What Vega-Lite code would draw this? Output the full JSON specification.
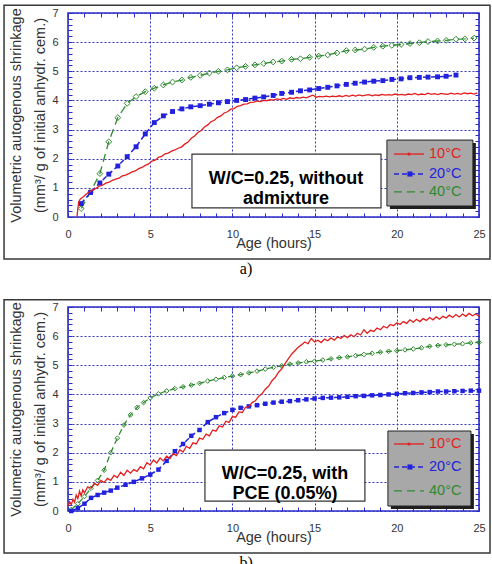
{
  "$schema": "https://vega.github.io/schema/vega-lite/v6.json",
  "background": "white",
  "padding": {"left": 2, "top": 3, "right": 2, "bottom": 0},
  "bounds": "flush",
  "spacing": 90,
  "config": {
    "font": "Liberation Sans",
    "view": {"stroke": "#2c2cc8", "strokeWidth": 1.6},
    "axis": {
      "domain": false,
      "tickColor": "#2c2cc8",
      "tickSize": -4,
      "tickWidth": 1,
      "labelFlush": false,
      "labelOverlap": false,
      "labelFontSize": 11,
      "labelColor": "#333333",
      "gridColor": "#3535c8",
      "gridDash": [2, 2],
      "gridWidth": 1,
      "titleFontWeight": "normal",
      "titleFontSize": 14.5,
      "titleColor": "#333333",
      "format": "d"
    }
  },
  "datasets": {
    "a10": [
      {"t":0.55,"v":0.02},{"t":0.6,"v":0.3},{"t":0.65,"v":0.52},{"t":0.75,"v":0.62},{"t":0.9,"v":0.68},{"t":1.1,"v":0.78},{"t":1.3,"v":0.86},{"t":1.5,"v":0.93},{"t":1.7,"v":0.98},{"t":1.9,"v":1.06},{"t":2.1,"v":1.09},{"t":2.3,"v":1.16},{"t":2.5,"v":1.2},{"t":2.7,"v":1.26},{"t":2.9,"v":1.3},{"t":3.1,"v":1.33},{"t":3.3,"v":1.41},{"t":3.5,"v":1.44},{"t":3.7,"v":1.49},{"t":3.9,"v":1.55},{"t":4.1,"v":1.58},{"t":4.3,"v":1.66},{"t":4.5,"v":1.7},{"t":4.7,"v":1.77},{"t":4.9,"v":1.82},{"t":5.1,"v":1.92},{"t":5.3,"v":1.95},{"t":5.5,"v":2.05},{"t":5.7,"v":2.08},{"t":5.9,"v":2.17},{"t":6.1,"v":2.19},{"t":6.3,"v":2.26},{"t":6.5,"v":2.3},{"t":6.7,"v":2.36},{"t":6.9,"v":2.4},{"t":7.1,"v":2.5},{"t":7.3,"v":2.57},{"t":7.5,"v":2.7},{"t":7.7,"v":2.78},{"t":7.9,"v":2.9},{"t":8.1,"v":2.97},{"t":8.3,"v":3.09},{"t":8.5,"v":3.16},{"t":8.7,"v":3.27},{"t":8.9,"v":3.32},{"t":9.1,"v":3.42},{"t":9.3,"v":3.47},{"t":9.5,"v":3.57},{"t":9.7,"v":3.61},{"t":9.9,"v":3.7},{"t":10.1,"v":3.72},{"t":10.3,"v":3.8},{"t":10.5,"v":3.82},{"t":10.7,"v":3.87},{"t":10.9,"v":3.88},{"t":11.1,"v":3.93},{"t":11.3,"v":3.94},{"t":11.5,"v":3.98},{"t":11.7,"v":3.96},{"t":11.9,"v":4.0},{"t":12.1,"v":3.99},{"t":12.3,"v":4.03},{"t":12.5,"v":4.01},{"t":12.7,"v":4.05},{"t":12.9,"v":4.03},{"t":13.1,"v":4.07},{"t":13.3,"v":4.04},{"t":13.5,"v":4.09},{"t":13.7,"v":4.06},{"t":13.9,"v":4.1},{"t":14.1,"v":4.08},{"t":14.3,"v":4.11},{"t":14.5,"v":4.09},{"t":14.7,"v":4.14},{"t":14.9,"v":4.18},{"t":15.1,"v":4.11},{"t":15.3,"v":4.14},{"t":15.5,"v":4.12},{"t":15.7,"v":4.15},{"t":15.9,"v":4.12},{"t":16.1,"v":4.15},{"t":16.3,"v":4.13},{"t":16.5,"v":4.16},{"t":16.7,"v":4.13},{"t":16.9,"v":4.17},{"t":17.1,"v":4.14},{"t":17.3,"v":4.18},{"t":17.5,"v":4.15},{"t":17.7,"v":4.19},{"t":17.9,"v":4.16},{"t":18.1,"v":4.18},{"t":18.3,"v":4.2},{"t":18.5,"v":4.16},{"t":18.7,"v":4.19},{"t":18.9,"v":4.17},{"t":19.1,"v":4.21},{"t":19.3,"v":4.18},{"t":19.5,"v":4.2},{"t":19.7,"v":4.18},{"t":19.9,"v":4.22},{"t":20.1,"v":4.19},{"t":20.3,"v":4.21},{"t":20.5,"v":4.18},{"t":20.7,"v":4.22},{"t":20.9,"v":4.2},{"t":21.1,"v":4.24},{"t":21.3,"v":4.19},{"t":21.5,"v":4.22},{"t":21.7,"v":4.2},{"t":21.9,"v":4.25},{"t":22.1,"v":4.21},{"t":22.3,"v":4.23},{"t":22.5,"v":4.2},{"t":22.7,"v":4.24},{"t":22.9,"v":4.22},{"t":23.1,"v":4.21},{"t":23.3,"v":4.25},{"t":23.5,"v":4.22},{"t":23.7,"v":4.24},{"t":23.9,"v":4.21},{"t":24.1,"v":4.26},{"t":24.3,"v":4.23},{"t":24.5,"v":4.25},{"t":24.7,"v":4.22},{"t":24.9,"v":4.26}
    ],
    "a20": [
      {"t":0.8,"v":0.46},{"t":1.37,"v":0.84},{"t":1.94,"v":1.17},{"t":2.48,"v":1.47},{"t":3.03,"v":1.75},{"t":3.6,"v":2.07},{"t":4.14,"v":2.41},{"t":4.7,"v":2.85},{"t":5.25,"v":3.24},{"t":5.8,"v":3.47},{"t":6.36,"v":3.62},{"t":6.93,"v":3.71},{"t":7.47,"v":3.78},{"t":8.04,"v":3.82},{"t":8.6,"v":3.87},{"t":9.15,"v":3.92},{"t":9.7,"v":3.96},{"t":10.26,"v":4.0},{"t":10.8,"v":4.03},{"t":11.37,"v":4.08},{"t":11.9,"v":4.12},{"t":12.48,"v":4.17},{"t":13.0,"v":4.24},{"t":13.6,"v":4.28},{"t":14.14,"v":4.33},{"t":14.7,"v":4.36},{"t":15.25,"v":4.41},{"t":15.8,"v":4.45},{"t":16.36,"v":4.5},{"t":16.93,"v":4.55},{"t":17.47,"v":4.59},{"t":18.04,"v":4.63},{"t":18.6,"v":4.66},{"t":19.15,"v":4.68},{"t":19.7,"v":4.72},{"t":20.26,"v":4.74},{"t":20.8,"v":4.78},{"t":21.37,"v":4.79},{"t":21.9,"v":4.8},{"t":22.48,"v":4.81},{"t":23.0,"v":4.83},{"t":23.6,"v":4.87}
    ],
    "a40": [
      {"t":0.8,"v":0.29},{"t":1.37,"v":0.86},{"t":1.94,"v":1.49},{"t":2.48,"v":2.58},{"t":3.03,"v":3.41},{"t":3.6,"v":3.9},{"t":4.14,"v":4.13},{"t":4.7,"v":4.3},{"t":5.25,"v":4.42},{"t":5.8,"v":4.53},{"t":6.36,"v":4.63},{"t":6.93,"v":4.7},{"t":7.47,"v":4.79},{"t":8.04,"v":4.86},{"t":8.6,"v":4.94},{"t":9.15,"v":5.0},{"t":9.7,"v":5.05},{"t":10.26,"v":5.12},{"t":10.8,"v":5.17},{"t":11.37,"v":5.22},{"t":11.9,"v":5.27},{"t":12.48,"v":5.32},{"t":13.0,"v":5.35},{"t":13.6,"v":5.41},{"t":14.14,"v":5.43},{"t":14.7,"v":5.48},{"t":15.25,"v":5.52},{"t":15.8,"v":5.56},{"t":16.36,"v":5.63},{"t":16.93,"v":5.71},{"t":17.47,"v":5.73},{"t":18.04,"v":5.76},{"t":18.6,"v":5.82},{"t":19.15,"v":5.86},{"t":19.7,"v":5.89},{"t":20.26,"v":5.92},{"t":20.8,"v":5.95},{"t":21.37,"v":5.98},{"t":21.9,"v":6.02},{"t":22.48,"v":6.04},{"t":23.0,"v":6.06},{"t":23.6,"v":6.1},{"t":24.14,"v":6.11},{"t":24.7,"v":6.14}
    ],
    "b10": [
      {"t":0.0,"v":0.18},{"t":0.1,"v":0.32},{"t":0.2,"v":0.22},{"t":0.3,"v":0.4},{"t":0.4,"v":0.3},{"t":0.5,"v":0.55},{"t":0.6,"v":0.42},{"t":0.7,"v":0.68},{"t":0.8,"v":0.52},{"t":0.9,"v":0.72},{"t":1.0,"v":0.62},{"t":1.2,"v":0.83},{"t":1.4,"v":0.78},{"t":1.6,"v":0.95},{"t":1.8,"v":0.88},{"t":2.0,"v":1.05},{"t":2.2,"v":0.98},{"t":2.4,"v":1.12},{"t":2.6,"v":1.05},{"t":2.8,"v":1.22},{"t":3.0,"v":1.15},{"t":3.2,"v":1.33},{"t":3.4,"v":1.22},{"t":3.6,"v":1.4},{"t":3.8,"v":1.3},{"t":4.0,"v":1.42},{"t":4.2,"v":1.36},{"t":4.4,"v":1.52},{"t":4.6,"v":1.45},{"t":4.8,"v":1.66},{"t":5.0,"v":1.58},{"t":5.2,"v":1.75},{"t":5.4,"v":1.65},{"t":5.6,"v":1.82},{"t":5.8,"v":1.72},{"t":6.0,"v":1.88},{"t":6.2,"v":1.8},{"t":6.4,"v":1.97},{"t":6.6,"v":1.9},{"t":6.8,"v":2.1},{"t":7.0,"v":2.02},{"t":7.2,"v":2.22},{"t":7.4,"v":2.15},{"t":7.6,"v":2.34},{"t":7.8,"v":2.3},{"t":8.0,"v":2.5},{"t":8.2,"v":2.46},{"t":8.4,"v":2.64},{"t":8.6,"v":2.58},{"t":8.8,"v":2.78},{"t":9.0,"v":2.74},{"t":9.2,"v":2.92},{"t":9.4,"v":2.88},{"t":9.6,"v":3.08},{"t":9.8,"v":3.04},{"t":10.0,"v":3.24},{"t":10.2,"v":3.22},{"t":10.4,"v":3.4},{"t":10.6,"v":3.38},{"t":10.8,"v":3.56},{"t":11.0,"v":3.58},{"t":11.2,"v":3.72},{"t":11.4,"v":3.78},{"t":11.6,"v":3.94},{"t":11.8,"v":4.02},{"t":12.0,"v":4.18},{"t":12.2,"v":4.28},{"t":12.4,"v":4.46},{"t":12.6,"v":4.58},{"t":12.8,"v":4.76},{"t":13.0,"v":4.88},{"t":13.2,"v":5.06},{"t":13.4,"v":5.22},{"t":13.6,"v":5.38},{"t":13.8,"v":5.5},{"t":14.0,"v":5.62},{"t":14.2,"v":5.7},{"t":14.4,"v":5.8},{"t":14.6,"v":5.74},{"t":14.8,"v":5.92},{"t":15.0,"v":5.8},{"t":15.2,"v":5.86},{"t":15.4,"v":5.78},{"t":15.6,"v":5.9},{"t":15.8,"v":5.84},{"t":16.0,"v":5.94},{"t":16.2,"v":5.86},{"t":16.4,"v":5.98},{"t":16.6,"v":5.92},{"t":16.8,"v":6.02},{"t":17.0,"v":5.95},{"t":17.2,"v":6.05},{"t":17.4,"v":5.98},{"t":17.6,"v":6.1},{"t":17.8,"v":6.04},{"t":18.0,"v":6.22},{"t":18.2,"v":6.1},{"t":18.4,"v":6.2},{"t":18.6,"v":6.16},{"t":18.8,"v":6.28},{"t":19.0,"v":6.22},{"t":19.2,"v":6.34},{"t":19.4,"v":6.28},{"t":19.6,"v":6.4},{"t":19.8,"v":6.36},{"t":20.0,"v":6.46},{"t":20.2,"v":6.4},{"t":20.4,"v":6.5},{"t":20.6,"v":6.44},{"t":20.8,"v":6.56},{"t":21.0,"v":6.48},{"t":21.2,"v":6.58},{"t":21.4,"v":6.5},{"t":21.6,"v":6.6},{"t":21.8,"v":6.54},{"t":22.0,"v":6.64},{"t":22.2,"v":6.56},{"t":22.4,"v":6.66},{"t":22.6,"v":6.58},{"t":22.8,"v":6.68},{"t":23.0,"v":6.62},{"t":23.2,"v":6.72},{"t":23.4,"v":6.64},{"t":23.6,"v":6.74},{"t":23.8,"v":6.66},{"t":24.0,"v":6.76},{"t":24.2,"v":6.68},{"t":24.4,"v":6.78},{"t":24.6,"v":6.7},{"t":24.8,"v":6.76},{"t":25.0,"v":6.68}
    ],
    "b20": [
      {"t":0.2,"v":0.0},{"t":0.6,"v":0.1},{"t":1.0,"v":0.25},{"t":1.4,"v":0.45},{"t":1.8,"v":0.55},{"t":2.2,"v":0.63},{"t":2.6,"v":0.7},{"t":3.0,"v":0.8},{"t":3.5,"v":0.9},{"t":4.0,"v":1.0},{"t":4.5,"v":1.12},{"t":5.0,"v":1.25},{"t":5.5,"v":1.42},{"t":6.0,"v":1.72},{"t":6.5,"v":2.05},{"t":7.0,"v":2.3},{"t":7.5,"v":2.58},{"t":8.0,"v":2.78},{"t":8.5,"v":3.05},{"t":9.0,"v":3.22},{"t":9.5,"v":3.36},{"t":10.0,"v":3.47},{"t":10.5,"v":3.54},{"t":11.0,"v":3.59},{"t":11.5,"v":3.63},{"t":12.0,"v":3.68},{"t":12.5,"v":3.72},{"t":13.0,"v":3.75},{"t":13.5,"v":3.77},{"t":14.0,"v":3.8},{"t":14.5,"v":3.83},{"t":15.0,"v":3.86},{"t":15.5,"v":3.88},{"t":16.0,"v":3.89},{"t":16.5,"v":3.9},{"t":17.0,"v":3.92},{"t":17.5,"v":3.94},{"t":18.0,"v":3.95},{"t":18.5,"v":3.97},{"t":19.0,"v":3.98},{"t":19.5,"v":4.0},{"t":20.0,"v":4.02},{"t":20.5,"v":4.04},{"t":21.0,"v":4.05},{"t":21.5,"v":4.07},{"t":22.0,"v":4.08},{"t":22.5,"v":4.1},{"t":23.0,"v":4.1},{"t":23.5,"v":4.11},{"t":24.0,"v":4.12},{"t":24.5,"v":4.13},{"t":25.0,"v":4.13}
    ],
    "b40": [
      {"t":0.2,"v":0.05},{"t":0.6,"v":0.25},{"t":1.0,"v":0.5},{"t":1.4,"v":0.78},{"t":1.8,"v":1.05},{"t":2.2,"v":1.4},{"t":2.6,"v":2.0},{"t":3.0,"v":2.5},{"t":3.4,"v":2.95},{"t":3.8,"v":3.3},{"t":4.2,"v":3.55},{"t":4.6,"v":3.72},{"t":5.0,"v":3.88},{"t":5.5,"v":4.02},{"t":6.0,"v":4.12},{"t":6.5,"v":4.2},{"t":7.0,"v":4.26},{"t":7.5,"v":4.32},{"t":8.0,"v":4.38},{"t":8.5,"v":4.46},{"t":9.0,"v":4.52},{"t":9.5,"v":4.58},{"t":10.0,"v":4.63},{"t":10.5,"v":4.68},{"t":11.0,"v":4.74},{"t":11.5,"v":4.8},{"t":12.0,"v":4.87},{"t":12.5,"v":4.93},{"t":13.0,"v":4.98},{"t":13.5,"v":5.04},{"t":14.0,"v":5.08},{"t":14.5,"v":5.12},{"t":15.0,"v":5.14},{"t":15.5,"v":5.18},{"t":16.0,"v":5.22},{"t":16.5,"v":5.26},{"t":17.0,"v":5.29},{"t":17.5,"v":5.33},{"t":18.0,"v":5.37},{"t":18.5,"v":5.41},{"t":19.0,"v":5.45},{"t":19.5,"v":5.48},{"t":20.0,"v":5.5},{"t":20.5,"v":5.53},{"t":21.0,"v":5.56},{"t":21.5,"v":5.6},{"t":22.0,"v":5.65},{"t":22.5,"v":5.68},{"t":23.0,"v":5.7},{"t":23.5,"v":5.72},{"t":24.0,"v":5.74},{"t":24.5,"v":5.77},{"t":25.0,"v":5.79}
    ]
  },
  "vconcat": [
    {
      "width": 411,
      "height": 204,
      "resolve": {"axis": {"x": "independent", "y": "independent"}},
      "layer": [
        {"data": {"values": [{}]}, "mark": {"type": "rect", "fill": "white", "fillOpacity": 0, "stroke": "#383838", "strokeWidth": 1.5},
         "encoding": {"x": {"datum": -3.89, "type": "quantitative", "axis": null}, "x2": {"datum": 25.67}, "y": {"datum": 7.27, "type": "quantitative", "axis": null}, "y2": {"datum": -1.44}}},
        {"data": {"values": [{}]}, "mark": {"type": "text", "text": "a)", "font": "Liberation Serif", "fontSize": 16, "color": "black"},
         "encoding": {"x": {"datum": 10.83, "type": "quantitative", "axis": null}, "y": {"datum": -1.79, "type": "quantitative", "axis": null}}},
        {"data": {"name": "a40"}, "mark": {"type": "line", "color": "#2f8a2f", "strokeDash": [8, 5], "strokeWidth": 1.3},
         "encoding": {"x": {"field": "t", "type": "quantitative", "axis": null}, "y": {"field": "v", "type": "quantitative", "axis": null}}},
        {"data": {"name": "a40"}, "mark": {"type": "point", "shape": "diamond", "filled": false, "color": "#2f8a2f", "size": 34, "strokeWidth": 1, "opacity": 1},
         "encoding": {
           "x": {"field": "t", "type": "quantitative", "axis": {"orient": "top", "values": [0,1,2,3,4,5,6,7,8,9,10,11,12,13,14,15,16,17,18,19,20,21,22,23,24,25], "labels": false, "grid": false, "title": null}},
           "y": {"field": "v", "type": "quantitative", "axis": {"orient": "right", "values": [0,0.2,0.4,0.6,0.8,1,1.2,1.4,1.6,1.8,2,2.2,2.4,2.6,2.8,3,3.2,3.4,3.6,3.8,4,4.2,4.4,4.6,4.8,5,5.2,5.4,5.6,5.8,6,6.2,6.4,6.6,6.8,7], "labels": false, "grid": false, "title": null}}}},
        {"data": {"name": "a20"}, "mark": {"type": "line", "color": "#2222dd", "strokeDash": [5, 3], "strokeWidth": 1.5},
         "encoding": {"x": {"field": "t", "type": "quantitative", "axis": null}, "y": {"field": "v", "type": "quantitative", "axis": null}}},
        {"data": {"name": "a20"}, "mark": {"type": "point", "shape": "square", "filled": true, "color": "#2222dd", "size": 24, "opacity": 1},
         "encoding": {"x": {"field": "t", "type": "quantitative", "axis": null}, "y": {"field": "v", "type": "quantitative", "axis": null}}},
        {"data": {"name": "a10"}, "mark": {"type": "line", "color": "#e41e1e", "strokeWidth": 1.3},
         "encoding": {
           "x": {"field": "t", "type": "quantitative", "scale": {"domain": [0, 25], "nice": false, "zero": false},
                 "axis": {"orient": "bottom", "values": [0,1,2,3,4,5,6,7,8,9,10,11,12,13,14,15,16,17,18,19,20,21,22,23,24,25],
                          "labelExpr": "datum.value % 5 === 0 ? datum.label : ''", "labelPadding": 15,
                          "grid": true, "gridOpacity": {"condition": {"test": "datum.value % 5 === 0", "value": 1}, "value": 0},
                          "title": "Age (hours)", "titlePadding": -3}},
           "y": {"field": "v", "type": "quantitative", "scale": {"domain": [0, 7], "nice": false, "zero": false},
                 "axis": {"orient": "left", "values": [0,0.2,0.4,0.6,0.8,1,1.2,1.4,1.6,1.8,2,2.2,2.4,2.6,2.8,3,3.2,3.4,3.6,3.8,4,4.2,4.4,4.6,4.8,5,5.2,5.4,5.6,5.8,6,6.2,6.4,6.6,6.8,7],
                          "labelExpr": "datum.value % 1 === 0 ? datum.label : ''", "labelPadding": 14,
                          "grid": true, "gridOpacity": {"condition": {"test": "datum.value % 1 === 0", "value": 1}, "value": 0},
                          "title": ["Volumetric autogenous shrinkage", "(mm³/ g of initial anhydr. cem.)"], "titleLineHeight": 24, "titlePadding": 4}}}},
        {"data": {"values": [{}]}, "mark": {"type": "rect", "fill": "white", "stroke": "#333333", "strokeWidth": 1.2},
         "encoding": {"x": {"datum": 7.54, "type": "quantitative", "axis": null}, "x2": {"datum": 19.04}, "y": {"datum": 2.16, "type": "quantitative", "axis": null}, "y2": {"datum": 0.31}}},
        {"data": {"values": [{}]}, "mark": {"type": "text", "text": ["W/C=0.25, without", "admixture"], "fontWeight": "bold", "fontSize": 18, "lineHeight": 20, "align": "center", "baseline": "middle", "color": "black"},
         "encoding": {"x": {"datum": 13.26, "type": "quantitative", "axis": null}, "y": {"datum": 1.3, "type": "quantitative", "axis": null}}},
        {"data": {"values": [{}]}, "mark": {"type": "rect", "fill": "#1e1e1e"},
         "encoding": {"x": {"datum": 19.58, "type": "quantitative", "axis": null}, "x2": {"datum": 24.81}, "y": {"datum": 2.54, "type": "quantitative", "axis": null}, "y2": {"datum": 0.277}}},
        {"data": {"values": [{}]}, "mark": {"type": "rect", "fill": "#a8a8a8", "stroke": "#222222", "strokeWidth": 1},
         "encoding": {"x": {"datum": 19.4, "type": "quantitative", "axis": null}, "x2": {"datum": 24.63}, "y": {"datum": 2.64, "type": "quantitative", "axis": null}, "y2": {"datum": 0.377}}},
        {"data": {"values": [{}]}, "mark": {"type": "rule", "color": "#e41e1e", "strokeWidth": 1.3},
         "encoding": {"x": {"datum": 19.83, "type": "quantitative", "axis": null}, "x2": {"datum": 21.65}, "y": {"datum": 2.16, "type": "quantitative", "axis": null}}},
        {"data": {"values": [{}]}, "mark": {"type": "point", "shape": "circle", "filled": true, "color": "#e41e1e", "size": 10, "opacity": 1},
         "encoding": {"x": {"datum": 20.74, "type": "quantitative", "axis": null}, "y": {"datum": 2.16, "type": "quantitative", "axis": null}}},
        {"data": {"values": [{}]}, "mark": {"type": "text", "text": "10°C", "align": "left", "baseline": "middle", "fontSize": 14.5, "color": "#e41e1e"},
         "encoding": {"x": {"datum": 21.96, "type": "quantitative", "axis": null}, "y": {"datum": 2.16, "type": "quantitative", "axis": null}}},
        {"data": {"values": [{}]}, "mark": {"type": "rule", "color": "#2222dd", "strokeWidth": 1.5, "strokeDash": [5, 3]},
         "encoding": {"x": {"datum": 19.83, "type": "quantitative", "axis": null}, "x2": {"datum": 21.65}, "y": {"datum": 1.475, "type": "quantitative", "axis": null}}},
        {"data": {"values": [{}]}, "mark": {"type": "point", "shape": "square", "filled": true, "color": "#2222dd", "size": 26, "opacity": 1},
         "encoding": {"x": {"datum": 20.8, "type": "quantitative", "axis": null}, "y": {"datum": 1.475, "type": "quantitative", "axis": null}}},
        {"data": {"values": [{}]}, "mark": {"type": "text", "text": "20°C", "align": "left", "baseline": "middle", "fontSize": 14.5, "color": "#2222dd"},
         "encoding": {"x": {"datum": 21.96, "type": "quantitative", "axis": null}, "y": {"datum": 1.475, "type": "quantitative", "axis": null}}},
        {"data": {"values": [{}]}, "mark": {"type": "rule", "color": "#2f8a2f", "strokeWidth": 1.3, "strokeDash": [8, 5]},
         "encoding": {"x": {"datum": 19.83, "type": "quantitative", "axis": null}, "x2": {"datum": 21.65}, "y": {"datum": 0.86, "type": "quantitative", "axis": null}}},
        {"data": {"values": [{}]}, "mark": {"type": "text", "text": "40°C", "align": "left", "baseline": "middle", "fontSize": 14.5, "color": "#2f8a2f"},
         "encoding": {"x": {"datum": 21.96, "type": "quantitative", "axis": null}, "y": {"datum": 0.86, "type": "quantitative", "axis": null}}}
      ]
    },
    {
      "width": 411,
      "height": 204,
      "resolve": {"axis": {"x": "independent", "y": "independent"}},
      "layer": [
        {"data": {"values": [{}]}, "mark": {"type": "rect", "fill": "white", "fillOpacity": 0, "stroke": "#383838", "strokeWidth": 1.5},
         "encoding": {"x": {"datum": -3.89, "type": "quantitative", "axis": null}, "x2": {"datum": 25.67}, "y": {"datum": 7.25, "type": "quantitative", "axis": null}, "y2": {"datum": -1.44}}},
        {"data": {"values": [{}]}, "mark": {"type": "text", "text": "b)", "font": "Liberation Serif", "fontSize": 16, "color": "black"},
         "encoding": {"x": {"datum": 10.83, "type": "quantitative", "axis": null}, "y": {"datum": -1.79, "type": "quantitative", "axis": null}}},
        {"data": {"name": "b40"}, "mark": {"type": "line", "color": "#2f8a2f", "strokeDash": [6, 4], "strokeWidth": 1.3},
         "encoding": {"x": {"field": "t", "type": "quantitative", "axis": null}, "y": {"field": "v", "type": "quantitative", "axis": null}}},
        {"data": {"name": "b40"}, "mark": {"type": "point", "shape": "diamond", "filled": false, "color": "#2f8a2f", "size": 22, "strokeWidth": 1, "opacity": 1},
         "encoding": {
           "x": {"field": "t", "type": "quantitative", "axis": {"orient": "top", "values": [0,1,2,3,4,5,6,7,8,9,10,11,12,13,14,15,16,17,18,19,20,21,22,23,24,25], "labels": false, "grid": false, "title": null}},
           "y": {"field": "v", "type": "quantitative", "axis": {"orient": "right", "values": [0,0.2,0.4,0.6,0.8,1,1.2,1.4,1.6,1.8,2,2.2,2.4,2.6,2.8,3,3.2,3.4,3.6,3.8,4,4.2,4.4,4.6,4.8,5,5.2,5.4,5.6,5.8,6,6.2,6.4,6.6,6.8,7], "labels": false, "grid": false, "title": null}}}},
        {"data": {"name": "b20"}, "mark": {"type": "line", "color": "#2222dd", "strokeDash": [5, 3], "strokeWidth": 1.5},
         "encoding": {"x": {"field": "t", "type": "quantitative", "axis": null}, "y": {"field": "v", "type": "quantitative", "axis": null}}},
        {"data": {"name": "b20"}, "mark": {"type": "point", "shape": "square", "filled": true, "color": "#2222dd", "size": 20, "opacity": 1},
         "encoding": {"x": {"field": "t", "type": "quantitative", "axis": null}, "y": {"field": "v", "type": "quantitative", "axis": null}}},
        {"data": {"name": "b10"}, "mark": {"type": "line", "color": "#e41e1e", "strokeWidth": 1.3},
         "encoding": {
           "x": {"field": "t", "type": "quantitative", "scale": {"domain": [0, 25], "nice": false, "zero": false},
                 "axis": {"orient": "bottom", "values": [0,1,2,3,4,5,6,7,8,9,10,11,12,13,14,15,16,17,18,19,20,21,22,23,24,25],
                          "labelExpr": "datum.value % 5 === 0 ? datum.label : ''", "labelPadding": 15,
                          "grid": true, "gridOpacity": {"condition": {"test": "datum.value % 5 === 0", "value": 1}, "value": 0},
                          "title": "Age (hours)", "titlePadding": -3}},
           "y": {"field": "v", "type": "quantitative", "scale": {"domain": [0, 7], "nice": false, "zero": false},
                 "axis": {"orient": "left", "values": [0,0.2,0.4,0.6,0.8,1,1.2,1.4,1.6,1.8,2,2.2,2.4,2.6,2.8,3,3.2,3.4,3.6,3.8,4,4.2,4.4,4.6,4.8,5,5.2,5.4,5.6,5.8,6,6.2,6.4,6.6,6.8,7],
                          "labelExpr": "datum.value % 1 === 0 ? datum.label : ''", "labelPadding": 14,
                          "grid": true, "gridOpacity": {"condition": {"test": "datum.value % 1 === 0", "value": 1}, "value": 0},
                          "title": ["Volumetric autogenous shrinkage", "(mm³/ g of initial anhydr. cem.)"], "titleLineHeight": 24, "titlePadding": 4}}}},
        {"data": {"values": [{}]}, "mark": {"type": "rect", "fill": "white", "stroke": "#333333", "strokeWidth": 1.2},
         "encoding": {"x": {"datum": 8.33, "type": "quantitative", "axis": null}, "x2": {"datum": 18.06}, "y": {"datum": 2.09, "type": "quantitative", "axis": null}, "y2": {"datum": 0.34}}},
        {"data": {"values": [{}]}, "mark": {"type": "text", "text": ["W/C=0.25, with", "PCE (0.05%)"], "fontWeight": "bold", "fontSize": 18, "lineHeight": 20, "align": "center", "baseline": "middle", "color": "black"},
         "encoding": {"x": {"datum": 13.2, "type": "quantitative", "axis": null}, "y": {"datum": 1.27, "type": "quantitative", "axis": null}}},
        {"data": {"values": [{}]}, "mark": {"type": "rect", "fill": "#1e1e1e"},
         "encoding": {"x": {"datum": 19.64, "type": "quantitative", "axis": null}, "x2": {"datum": 24.69}, "y": {"datum": 2.645, "type": "quantitative", "axis": null}, "y2": {"datum": 0.07}}},
        {"data": {"values": [{}]}, "mark": {"type": "rect", "fill": "#a8a8a8", "stroke": "#222222", "strokeWidth": 1},
         "encoding": {"x": {"datum": 19.46, "type": "quantitative", "axis": null}, "x2": {"datum": 24.51}, "y": {"datum": 2.745, "type": "quantitative", "axis": null}, "y2": {"datum": 0.17}}},
        {"data": {"values": [{}]}, "mark": {"type": "rule", "color": "#e41e1e", "strokeWidth": 1.3},
         "encoding": {"x": {"datum": 19.83, "type": "quantitative", "axis": null}, "x2": {"datum": 21.65}, "y": {"datum": 2.3, "type": "quantitative", "axis": null}}},
        {"data": {"values": [{}]}, "mark": {"type": "point", "shape": "circle", "filled": true, "color": "#e41e1e", "size": 10, "opacity": 1},
         "encoding": {"x": {"datum": 20.74, "type": "quantitative", "axis": null}, "y": {"datum": 2.3, "type": "quantitative", "axis": null}}},
        {"data": {"values": [{}]}, "mark": {"type": "text", "text": "10°C", "align": "left", "baseline": "middle", "fontSize": 14.5, "color": "#e41e1e"},
         "encoding": {"x": {"datum": 21.96, "type": "quantitative", "axis": null}, "y": {"datum": 2.3, "type": "quantitative", "axis": null}}},
        {"data": {"values": [{}]}, "mark": {"type": "rule", "color": "#2222dd", "strokeWidth": 1.5, "strokeDash": [5, 3]},
         "encoding": {"x": {"datum": 19.83, "type": "quantitative", "axis": null}, "x2": {"datum": 21.65}, "y": {"datum": 1.51, "type": "quantitative", "axis": null}}},
        {"data": {"values": [{}]}, "mark": {"type": "point", "shape": "square", "filled": true, "color": "#2222dd", "size": 26, "opacity": 1},
         "encoding": {"x": {"datum": 20.8, "type": "quantitative", "axis": null}, "y": {"datum": 1.51, "type": "quantitative", "axis": null}}},
        {"data": {"values": [{}]}, "mark": {"type": "text", "text": "20°C", "align": "left", "baseline": "middle", "fontSize": 14.5, "color": "#2222dd"},
         "encoding": {"x": {"datum": 21.96, "type": "quantitative", "axis": null}, "y": {"datum": 1.51, "type": "quantitative", "axis": null}}},
        {"data": {"values": [{}]}, "mark": {"type": "rule", "color": "#2f8a2f", "strokeWidth": 1.3, "strokeDash": [8, 5]},
         "encoding": {"x": {"datum": 19.83, "type": "quantitative", "axis": null}, "x2": {"datum": 21.65}, "y": {"datum": 0.69, "type": "quantitative", "axis": null}}},
        {"data": {"values": [{}]}, "mark": {"type": "text", "text": "40°C", "align": "left", "baseline": "middle", "fontSize": 14.5, "color": "#2f8a2f"},
         "encoding": {"x": {"datum": 21.96, "type": "quantitative", "axis": null}, "y": {"datum": 0.69, "type": "quantitative", "axis": null}}}
      ]
    }
  ]
}
